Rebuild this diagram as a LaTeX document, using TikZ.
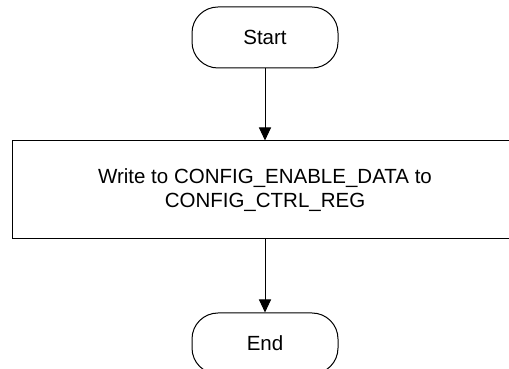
\documentclass[tikz,border=0pt]{standalone}
\usepackage{fontspec}
\setmainfont{Liberation Sans}
\usetikzlibrary{arrows.meta,positioning}
\tikzset{
  terminal/.style={draw=black, rounded corners=26pt, line width=1pt, minimum width=146pt, minimum height=61pt, inner sep=0pt, font=\fontsize{20.5}{24}\selectfont},
  process/.style={draw=black, line width=1pt, minimum width=506pt, minimum height=98pt, align=center, inner sep=0pt, font=\fontsize{20.5}{23.5}\selectfont},
  arrow/.style={-{Triangle[length=13pt,width=12pt]}, line width=1pt}
}
\begin{document}
\begin{tikzpicture}[x=1pt,y=1pt]
\useasboundingbox (0,0) rectangle (509,369);
% nodes
\node[terminal] (start) at (265,331.5) {Start};
\node[process, below=72pt of start] (write) {Write to CONFIG\_ENABLE\_DATA to\\CONFIG\_CTRL\_REG};
\node[terminal, below=73pt of write] (end) {End};
% flow
\draw[arrow] (start) -- (write);
\draw[arrow] (write) -- (end);
\end{tikzpicture}
\end{document}
